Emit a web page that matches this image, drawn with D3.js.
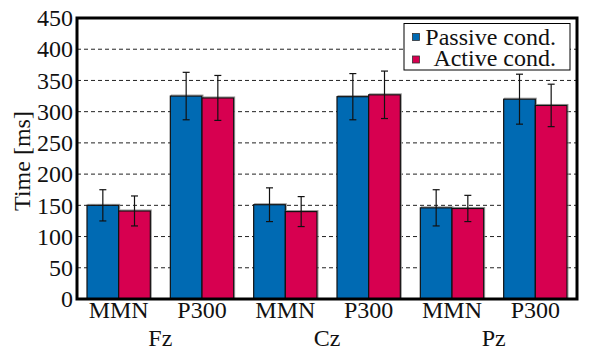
<!DOCTYPE html>
<html>
<head>
<meta charset="utf-8">
<script src="https://cdn.jsdelivr.net/npm/d3@7"></script>
</head>
<body style="margin:0;background:#fff">
<div id="chart"></div>
<script>
// data
const electrodes = ["Fz", "Cz", "Pz"];
const components = ["MMN", "P300"];
const seriesNames = ["Passive cond.", "Active cond."];
const passiveMean = [150, 325, 151, 324, 146, 320];
const passiveErr = [25, 38, 27, 37, 29, 40];
const activeMean = [141, 322, 140, 327, 145, 310];
const activeErr = [24, 36, 24, 38, 21, 34];
const yTicks = [0, 50, 100, 150, 200, 250, 300, 350, 400, 450];
const colors = ["#006ab3", "#d70050"];

const FONT = "'Liberation Serif', 'Times New Roman', serif";
const FS = "24px";

const W = 591, H = 351;
const margin = {top: 18, right: 14, bottom: 52, left: 77};
const width = W - margin.left - margin.right,
      height = H - margin.top - margin.bottom;

const svg = d3.select("#chart").append("svg")
    .attr("width", W).attr("height", H)
    .append("g")
    .attr("transform", `translate(${margin.left},${margin.top})`);

// categories: electrode x component
const cats = [];
electrodes.forEach(e => components.forEach(c => cats.push(e + "-" + c)));

const x = d3.scaleBand().domain(cats).range([0, width]).paddingInner(0.24).paddingOuter(0.12);
const xs = d3.scaleBand().domain([0, 1]).range([0, x.bandwidth()]);
const y = d3.scaleLinear().domain([0, 450]).range([height, 0]);

// grid
svg.append("g")
  .selectAll("line")
  .data(yTicks.filter(t => t > 0 && t < 450))
  .join("line")
    .attr("x1", 0).attr("x2", width)
    .attr("y1", d => y(d)).attr("y2", d => y(d))
    .attr("stroke", "#222")
    .attr("stroke-width", 1)
    .attr("stroke-dasharray", "4,3");

// y axis
const yAxis = svg.append("g")
    .call(d3.axisLeft(y).tickValues(yTicks).tickSize(0).tickPadding(4));
yAxis.select(".domain").remove();
yAxis.selectAll("text")
    .style("font-family", FONT).style("font-size", FS).attr("fill", "#111");

// bars
const series = [
  {mean: passiveMean, err: passiveErr},
  {mean: activeMean, err: activeErr}
];
series.forEach((s, si) => {
  const g = svg.append("g");
  g.selectAll("rect.shadow")
    .data(cats)
    .join("rect")
      .attr("x", d => x(d) + xs(si) + 1)
      .attr("y", (d, i) => y(s.mean[i]) - 1)
      .attr("width", xs.bandwidth())
      .attr("height", (d, i) => height - y(s.mean[i]) + 1)
      .attr("fill", "none")
      .attr("stroke", "#999")
      .attr("stroke-width", 1);
  g.selectAll("rect.bar")
    .data(cats)
    .join("rect")
      .attr("x", d => x(d) + xs(si))
      .attr("y", (d, i) => y(s.mean[i]))
      .attr("width", xs.bandwidth())
      .attr("height", (d, i) => height - y(s.mean[i]))
      .attr("fill", colors[si])
      .attr("stroke", "#111")
      .attr("stroke-width", 1.2);
});

// error bars
series.forEach((s, si) => {
  const g = svg.append("g").attr("stroke", "#111").attr("stroke-width", 1.2);
  cats.forEach((d, i) => {
    const cx = x(d) + xs(si) + xs.bandwidth() / 2;
    const top = y(s.mean[i] + s.err[i]), bot = y(s.mean[i] - s.err[i]);
    g.append("line").attr("x1", cx).attr("x2", cx).attr("y1", top).attr("y2", bot);
    g.append("line").attr("x1", cx - 3.5).attr("x2", cx + 3.5).attr("y1", top).attr("y2", top);
    g.append("line").attr("x1", cx - 3.5).attr("x2", cx + 3.5).attr("y1", bot).attr("y2", bot);
  });
});

// frame
svg.append("rect")
    .attr("x", 0).attr("y", 0)
    .attr("width", width).attr("height", height)
    .attr("fill", "none")
    .attr("stroke", "#000")
    .attr("stroke-width", 3);

// x labels
const xAxis = svg.append("g")
    .attr("transform", `translate(0,${height})`)
    .call(d3.axisBottom(x).tickSize(0).tickPadding(2).tickFormat(d => d.split("-")[1]));
xAxis.select(".domain").remove();
xAxis.selectAll("text")
    .style("font-family", FONT).style("font-size", FS).attr("fill", "#111");

svg.append("g")
  .selectAll("text")
  .data(electrodes)
  .join("text")
    .attr("x", d => (x(d + "-MMN") + x(d + "-P300") + x.bandwidth()) / 2)
    .attr("y", height + 47)
    .attr("text-anchor", "middle")
    .style("font-family", FONT).style("font-size", FS).attr("fill", "#111")
    .text(d => d);

// y label
svg.append("text")
    .attr("transform", `translate(${30 - margin.left},${height / 2 + 2.5}) rotate(-90)`)
    .attr("text-anchor", "middle")
    .style("font-family", FONT).style("font-size", FS).attr("fill", "#111")
    .text("Time [ms]");

// legend
const lg = svg.append("g").attr("transform", `translate(${404 - margin.left},${23.5 - margin.top})`);
lg.append("rect")
    .attr("width", 166).attr("height", 46.5)
    .attr("fill", "#fff")
    .attr("stroke", "#000")
    .attr("stroke-width", 1);
seriesNames.forEach((n, i) => {
  lg.append("rect")
      .attr("x", 8.5).attr("y", 10 + i * 22.5)
      .attr("width", 7).attr("height", 7)
      .attr("fill", colors[i])
      .attr("stroke", "#333")
      .attr("stroke-width", 0.8);
  lg.append("text")
      .attr("x", 152).attr("y", 21 + i * 21)
      .attr("text-anchor", "end")
      .style("font-family", FONT).style("font-size", FS).attr("fill", "#111")
      .text(n);
});
</script>
</body>
</html>
